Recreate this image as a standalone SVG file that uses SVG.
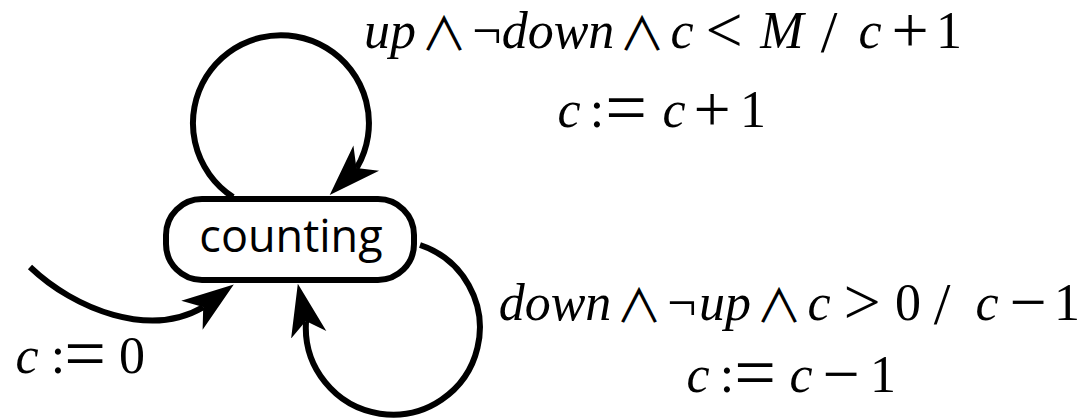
<svg xmlns="http://www.w3.org/2000/svg" width="1092" height="420" viewBox="0 0 1092 420">
<style>
.edge{fill:none;stroke:#000;stroke-width:6;marker-end:url(#ah)}
.state{fill:#fff;stroke:#000;stroke-width:6}
.sl{font-family:"Open Sans","DejaVu Sans",sans-serif;font-size:45px;fill:#000;text-anchor:middle}
.m{font-family:"Liberation Serif","Times New Roman",serif;font-size:52px;fill:#000;text-anchor:middle}
.i{font-style:italic}
.op{font-size:66px}
.eq{font-size:74px}
.and{font-family:"Noto Sans CJK JP",sans-serif;font-size:46px}
.sl2{font-size:60px}
</style>
<defs>
<marker id="ah" markerUnits="userSpaceOnUse" viewBox="0 -20 56 40" markerWidth="56" markerHeight="40" refX="14" refY="0" orient="auto">
<path d="M0,-18 L52,0 L0,18 L14,0 Z" fill="#000"/>
</marker>
</defs>
<g id="connectors">
<path id="e-init" class="edge" d="M30,267 C75,310 150,338 202.4,307.6 l0.8,-0.59"/>
<path id="e-up" class="edge" d="M233,197 A88,88 0 1 1 357.1,167.3 l-0.7,0.71"/>
<path id="e-down" class="edge" d="M420,245 A87,87 0 1 1 306,322 l-0.21,-0.98"/>
</g>
<g id="node-counting">
<rect class="state" x="166" y="199" width="248" height="81" rx="36" ry="36"/>
<text class="sl" x="291" y="252">counting</text>
</g>
<g id="labels">
<text class="m" y="48"><tspan class="i" x="390">up</tspan><tspan class="and" x="444" y="50">∧</tspan><tspan x="487" y="48">¬</tspan><tspan class="i" x="558">down</tspan><tspan class="and" x="642" y="50">∧</tspan><tspan class="i" x="682" y="48">c</tspan><tspan class="op" x="724" y="52">&lt;</tspan><tspan class="i" x="782" y="48">M</tspan><tspan class="sl2" x="829" y="52">/</tspan><tspan class="i" x="870" y="48">c</tspan><tspan class="op" x="910" y="52">+</tspan><tspan x="949" y="48">1</tspan></text>
<text class="m" y="127"><tspan class="i" x="569">c</tspan><tspan x="597">:</tspan><tspan class="eq" x="626" y="132">=</tspan><tspan class="i" x="674" y="127">c</tspan><tspan class="op" x="712" y="131">+</tspan><tspan x="753" y="127">1</tspan></text>
<text class="m" y="320"><tspan class="i" x="555">down</tspan><tspan class="and" x="639" y="322">∧</tspan><tspan x="682" y="320">¬</tspan><tspan class="i" x="725">up</tspan><tspan class="and" x="779" y="322">∧</tspan><tspan class="i" x="819" y="320">c</tspan><tspan class="op" x="862" y="324">&gt;</tspan><tspan x="908" y="320">0</tspan><tspan class="sl2" x="942" y="324">/</tspan><tspan class="i" x="987" y="320">c</tspan><tspan class="op" x="1028" y="324">−</tspan><tspan x="1067" y="320">1</tspan></text>
<text class="m" y="392"><tspan class="i" x="698">c</tspan><tspan x="727">:</tspan><tspan class="eq" x="755" y="397">=</tspan><tspan class="i" x="801" y="392">c</tspan><tspan class="op" x="841" y="396">−</tspan><tspan x="883" y="392">1</tspan></text>
<text class="m" y="373"><tspan class="i" x="27">c</tspan><tspan x="58">:</tspan><tspan class="eq" x="85" y="378">=</tspan><tspan x="132" y="373">0</tspan></text>
</g>
</svg>
